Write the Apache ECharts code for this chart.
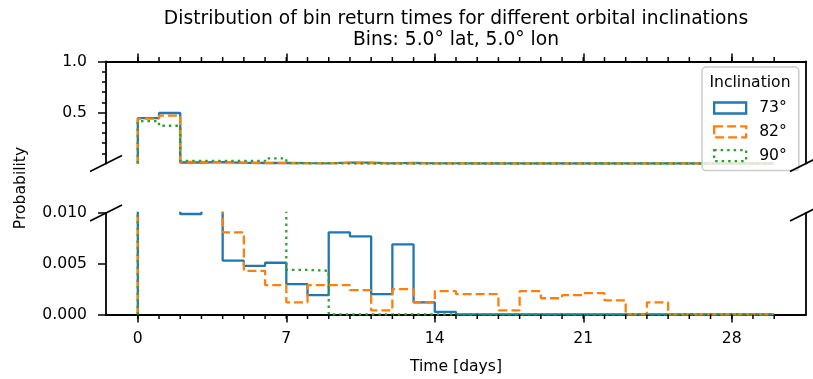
<!DOCTYPE html>
<html lang="en">
<head>
<meta charset="UTF-8">
<title>Bin return times</title>
<style>
  * { margin: 0; padding: 0; }
  body { background: #ffffff; }
  #chart { width: 813px; height: 379px; }
</style>
</head>
<body>
<div id="chart"></div>
<script src="https://cdn.jsdelivr.net/npm/echarts@6/dist/echarts.min.js"></script>
<script>
// histogram bins, 1 day wide
var binEdges = [0, 1, 2, 3, 4, 5, 6, 7, 8, 9, 10, 11, 12, 13, 14, 15, 16, 17, 18, 19, 20,
                21, 22, 23, 24, 25, 26, 27, 28, 29, 30];
var inclinations = ['73°', '82°', '90°'];

var prob73 = [0.445, 0.495, 0.0099, 0.014, 0.0053, 0.0048, 0.0051, 0.0030, 0.0019, 0.0081,
              0.0077, 0.0020, 0.0069, 0.0012, 0.00025, 0, 0, 0, 0, 0,
              0, 0, 0, 0, 0, 0, 0, 0, 0, 0];
var prob82 = [0.44, 0.47, 0.015, 0.013, 0.0081, 0.0043, 0.0029, 0.0012, 0.0029, 0.0029,
              0.0024, 0.0004, 0.0025, 0.0012, 0.0023, 0.0020, 0.0020, 0.0004, 0.0023, 0.0016,
              0.0019, 0.0021, 0.0014, 0, 0.0012, 0, 0, 0, 0, 0];
var prob90 = [0.415, 0.37, 0.025, 0.025, 0.025, 0.025, 0.05, 0.0044, 0.0043, 0,
              0, 0, 0, 0, 0, 0, 0, 0, 0, 0,
              0, 0, 0, 0, 0, 0, 0, 0, 0, 0];

var dayTicks = [0, 7, 14, 21, 28];
var dayMinorTicks = [0, 1, 2, 3, 4, 5, 6, 7, 8, 9, 10, 11, 12, 13, 14, 15, 16, 17, 18, 19, 20,
                     21, 22, 23, 24, 25, 26, 27, 28, 29, 30];
var topTicks = [0.5, 1.0];
var topMinorTicks = [0.1, 0.2, 0.3, 0.4, 0.6, 0.7, 0.8, 0.9];
var bottomTicks = [0, 0.005, 0.01];

var FONT = 'DejaVu Sans';
var colors = ['#1f77b4', '#ff7f0e', '#2ca02c'];
var dashes = ['solid', [9, 4], [2.5, 4]];

// layout of the two panels (px)
var L = 106, R = 806, W = 813;
var T1 = 61.5, B1 = 163.5, T2 = 213, B2 = 314.5;
var X_MIN = -1.5, X_MAX = 31.5;

function stepPoints(values) {
  var pts = [[binEdges[0], 0]];
  values.forEach(function (v, i) {
    pts.push([binEdges[i], v], [binEdges[i + 1], v]);
  });
  pts.push([binEdges[values.length], 0]);
  return pts;
}

function labelFor(ticks, fmt, margin) {
  if (fmt === null) return { show: false };
  return {
    show: true, customValues: ticks, margin: margin, color: '#000', fontSize: 15.6, fontFamily: FONT,
    formatter: function (v) { return fmt ? v.toFixed(fmt) : String(v); }
  };
}

function xAxisFor(grid, pos, ticks, len, fmt) {
  return {
    type: 'value', gridIndex: grid, position: pos, min: X_MIN, max: X_MAX,
    axisLine: { show: true, onZero: false, lineStyle: { color: '#000', width: 1.8 } },
    axisTick: { show: true, customValues: ticks, length: len, lineStyle: { color: '#000', width: 1.5 } },
    axisLabel: labelFor(ticks, fmt, 16),
    splitLine: { show: false }
  };
}

function yAxisFor(grid, pos, min, max, ticks, len, withLine, fmt) {
  return {
    type: 'value', gridIndex: grid, position: pos, min: min, max: max,
    axisLine: { show: withLine, onZero: false, lineStyle: { color: '#000', width: 1.8 } },
    axisTick: ticks ? { show: true, customValues: ticks, length: len, lineStyle: { color: '#000', width: 1.5 } } : { show: false },
    axisLabel: labelFor(ticks, fmt, 19),
    splitLine: { show: false }
  };
}

var allProbs = [prob73, prob82, prob90];
var series = [];
[0, 1].forEach(function (panel) {
  allProbs.forEach(function (vals, k) {
    series.push({
      name: inclinations[k],
      type: 'line',
      xAxisIndex: panel,
      yAxisIndex: panel === 0 ? 0 : 3,
      data: stepPoints(vals),
      symbol: 'none',
      animation: false,
      lineStyle: { color: colors[k], width: 2.3, type: dashes[k] },
      itemStyle: { color: colors[k] }
    });
  });
});

// diagonal break marks
var baseGraphics = [];
[[L, B1], [R, B1], [L, T2], [R, T2]].forEach(function (p) {
  baseGraphics.push({
    type: 'line', z: 50,
    shape: { x1: p[0] - 16, y1: p[1] + 8, x2: p[0] + 16, y2: p[1] - 8 },
    style: { stroke: '#000', lineWidth: 1.8 }
  });
});
baseGraphics.push(
  {
    type: 'text', z: 100, x: 750, y: 83,
    style: { text: 'Inclination', font: '15.6px "DejaVu Sans"', fill: '#000', align: 'center', verticalAlign: 'middle' }
  },
  {
    type: 'text', z: 100, x: 21, y: 188, rotation: Math.PI / 2,
    style: { text: 'Probability', font: '15.6px "DejaVu Sans"', fill: '#000', align: 'center', verticalAlign: 'middle' }
  }
);

var chart = echarts.init(document.getElementById('chart'));
chart.setOption({
  animation: false,
  title: {
    text: 'Distribution of bin return times for different orbital inclinations\nBins: 5.0° lat, 5.0° lon',
    left: (L + R) / 2, top: 8, padding: 0, textAlign: 'center',
    textStyle: { fontFamily: FONT, fontSize: 18.7, fontWeight: 'normal', color: '#000', lineHeight: 21.5 }
  },
  grid: [
    { left: L, right: W - R, top: T1, height: B1 - T1 },
    { left: L, right: W - R, top: T2, height: B2 - T2 }
  ],
  xAxis: [
    xAxisFor(0, 'top', dayTicks, 8, null),
    Object.assign(xAxisFor(1, 'bottom', dayTicks, 8, 0), {
      name: 'Time [days]', nameLocation: 'middle', nameGap: 44,
      nameTextStyle: { fontFamily: FONT, fontSize: 15.6, color: '#000' }
    })
  ],
  yAxis: [
    yAxisFor(0, 'left', 0, 1, topTicks, 8, true, 1),
    yAxisFor(0, 'left', 0, 1, topMinorTicks, 4, false, null),
    yAxisFor(0, 'right', 0, 1, null, 0, true, null),
    yAxisFor(1, 'left', 0, 0.01, bottomTicks, 8, true, 3),
    yAxisFor(1, 'right', 0, 0.01, null, 0, true, null)
  ],
  legend: {
    orient: 'vertical', left: 702, top: 67,
    padding: [33, 12, 7, 11],
    itemWidth: 32, itemHeight: 11, itemGap: 7.8,
    borderColor: '#cccccc', borderWidth: 1.5, borderRadius: 4,
    backgroundColor: 'rgba(255,255,255,0.8)',
    textStyle: { fontFamily: FONT, fontSize: 15.6, color: '#000', padding: [0, 0, 0, 8] },
    data: inclinations.map(function (name, k) {
      return {
        name: name, icon: 'rect',
        itemStyle: { color: 'rgba(0,0,0,0)', borderColor: colors[k], borderWidth: 2.3, borderType: dashes[k] }
      };
    })
  },
  graphic: baseGraphics,
  series: series
});

// minor day ticks: pixel from the x axis, falling back to the same linear scale
function dayToPixel(axisIndex, d) {
  var px = NaN;
  try {
    var r = chart.convertToPixel({ xAxisIndex: axisIndex }, d);
    px = Array.isArray(r) ? r[0] : r;
  } catch (e) { px = NaN; }
  if (typeof px !== 'number' || !isFinite(px)) {
    px = L + (d - X_MIN) / (X_MAX - X_MIN) * (R - L);
  }
  return px;
}

var minorTicks = [];
dayMinorTicks.forEach(function (d) {
  var xTop = dayToPixel(0, d);
  var xBot = dayToPixel(1, d);
  minorTicks.push(
    { type: 'line', z: 60, shape: { x1: xTop, y1: T1, x2: xTop, y2: T1 - 4.5 }, style: { stroke: '#000', lineWidth: 1.5 } },
    { type: 'line', z: 60, shape: { x1: xBot, y1: B2, x2: xBot, y2: B2 + 4.5 }, style: { stroke: '#000', lineWidth: 1.5 } }
  );
});
chart.setOption({ graphic: baseGraphics.concat(minorTicks) });
</script>
</body>
</html>
